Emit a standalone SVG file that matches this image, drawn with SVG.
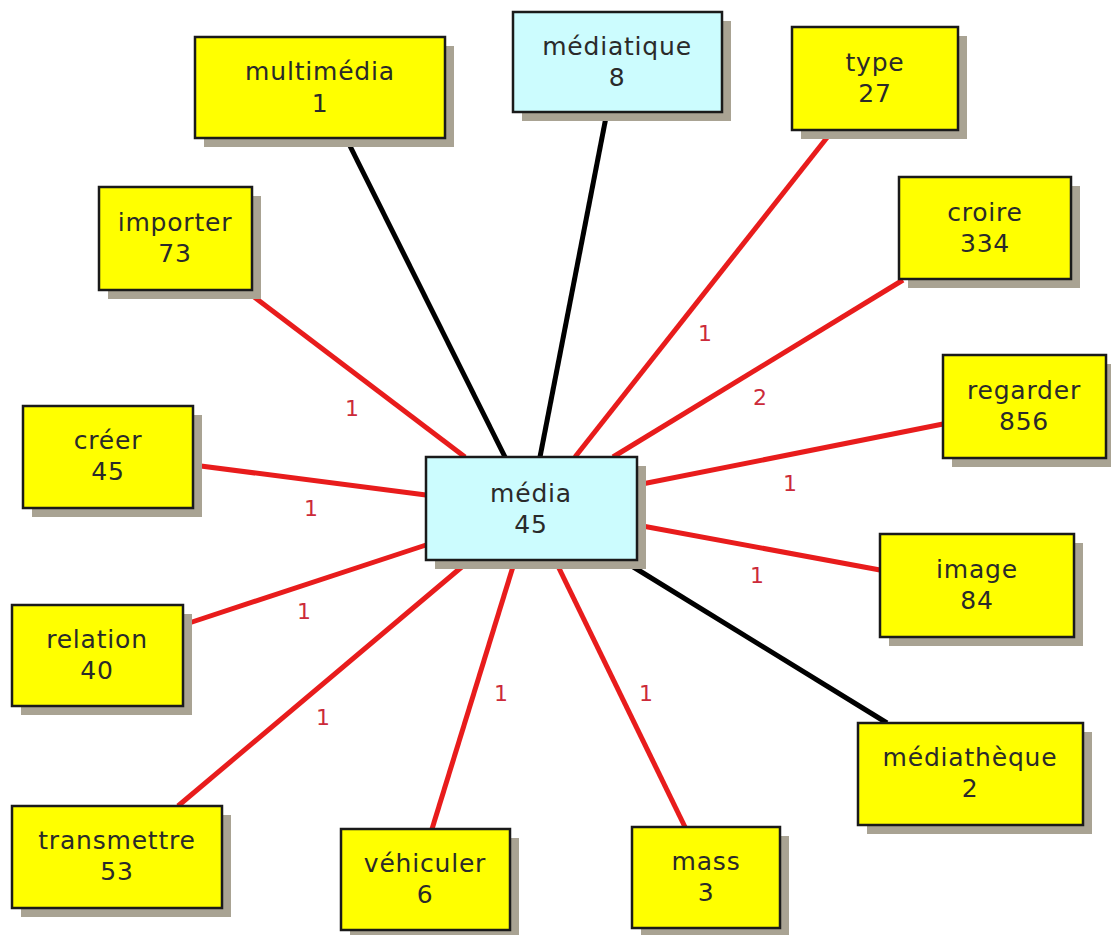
<svg xmlns="http://www.w3.org/2000/svg" width="1111" height="935" viewBox="0 0 1111 935">
<style>
.sh{fill:#a9a393}
.y{fill:#ffff00;stroke:#1a1a1a;stroke-width:2.5}
.c{fill:#ccfcfe;stroke:#1a1a1a;stroke-width:2.5}
.t{font-family:"DejaVu Sans",sans-serif;font-size:25px;fill:#2a2a2a;text-anchor:middle;letter-spacing:0.8px}
.r{stroke:#e81c1c;stroke-width:5;fill:none}
.k{stroke:#000;stroke-width:5;fill:none}
.l{font-family:"DejaVu Sans",sans-serif;font-size:22px;fill:#cc2a3a;text-anchor:middle}
</style>
<rect width="1111" height="935" fill="#ffffff"/>
<g id="connectors">
<line class="k" x1="347" y1="140" x2="505" y2="457"/>
<line class="k" x1="607" y1="112" x2="540" y2="457"/>
<line class="r" x1="833" y1="130" x2="575" y2="457"/>
<line class="r" x1="903" y1="280" x2="613" y2="457"/>
<line class="r" x1="943" y1="424" x2="637" y2="485"/>
<line class="r" x1="880" y1="570" x2="637" y2="525"/>
<line class="k" x1="887" y1="723" x2="622" y2="560"/>
<line class="r" x1="685" y1="827" x2="555" y2="560"/>
<line class="r" x1="432" y1="829" x2="515" y2="560"/>
<line class="r" x1="178" y1="806" x2="470" y2="560"/>
<line class="r" x1="183" y1="625" x2="426" y2="545"/>
<line class="r" x1="193" y1="465" x2="426" y2="495"/>
<line class="r" x1="245" y1="290" x2="465" y2="457"/>
<text class="l" x="352" y="416">1</text>
<text class="l" x="311" y="516">1</text>
<text class="l" x="304" y="619">1</text>
<text class="l" x="323" y="725">1</text>
<text class="l" x="501" y="701">1</text>
<text class="l" x="646" y="701">1</text>
<text class="l" x="757" y="583">1</text>
<text class="l" x="790" y="491">1</text>
<text class="l" x="760" y="405">2</text>
<text class="l" x="705" y="341">1</text>
</g>
<g id="media">
<rect class="sh" x="435" y="466" width="211" height="103"/>
<rect class="c" x="426" y="457" width="211" height="103"/>
<text class="t" x="531" y="502">média</text>
<text class="t" x="531" y="533">45</text>
</g>
<g id="multimedia">
<rect class="sh" x="204" y="46" width="250" height="101"/>
<rect class="y" x="195" y="37" width="250" height="101"/>
<text class="t" x="320" y="80">multimédia</text>
<text class="t" x="320" y="112">1</text>
</g>
<g id="mediatique">
<rect class="sh" x="522" y="21" width="209" height="100"/>
<rect class="c" x="513" y="12" width="209" height="100"/>
<text class="t" x="617" y="55">médiatique</text>
<text class="t" x="617" y="86">8</text>
</g>
<g id="type">
<rect class="sh" x="801" y="36" width="166" height="103"/>
<rect class="y" x="792" y="27" width="166" height="103"/>
<text class="t" x="875" y="71">type</text>
<text class="t" x="875" y="102">27</text>
</g>
<g id="croire">
<rect class="sh" x="908" y="186" width="172" height="102"/>
<rect class="y" x="899" y="177" width="172" height="102"/>
<text class="t" x="985" y="221">croire</text>
<text class="t" x="985" y="252">334</text>
</g>
<g id="regarder">
<rect class="sh" x="952" y="364" width="163" height="103"/>
<rect class="y" x="943" y="355" width="163" height="103"/>
<text class="t" x="1024" y="399">regarder</text>
<text class="t" x="1024" y="430">856</text>
</g>
<g id="image">
<rect class="sh" x="889" y="543" width="194" height="103"/>
<rect class="y" x="880" y="534" width="194" height="103"/>
<text class="t" x="977" y="578">image</text>
<text class="t" x="977" y="609">84</text>
</g>
<g id="mediatheque">
<rect class="sh" x="867" y="732" width="225" height="102"/>
<rect class="y" x="858" y="723" width="225" height="102"/>
<text class="t" x="970" y="766">médiathèque</text>
<text class="t" x="970" y="797">2</text>
</g>
<g id="mass">
<rect class="sh" x="641" y="836" width="148" height="101"/>
<rect class="y" x="632" y="827" width="148" height="101"/>
<text class="t" x="706" y="870">mass</text>
<text class="t" x="706" y="901">3</text>
</g>
<g id="vehiculer">
<rect class="sh" x="350" y="838" width="169" height="101"/>
<rect class="y" x="341" y="829" width="169" height="101"/>
<text class="t" x="425" y="872">véhiculer</text>
<text class="t" x="425" y="903">6</text>
</g>
<g id="transmettre">
<rect class="sh" x="21" y="815" width="210" height="102"/>
<rect class="y" x="12" y="806" width="210" height="102"/>
<text class="t" x="117" y="849">transmettre</text>
<text class="t" x="117" y="880">53</text>
</g>
<g id="relation">
<rect class="sh" x="21" y="614" width="171" height="101"/>
<rect class="y" x="12" y="605" width="171" height="101"/>
<text class="t" x="97" y="648">relation</text>
<text class="t" x="97" y="679">40</text>
</g>
<g id="creer">
<rect class="sh" x="32" y="415" width="170" height="102"/>
<rect class="y" x="23" y="406" width="170" height="102"/>
<text class="t" x="108" y="449">créer</text>
<text class="t" x="108" y="480">45</text>
</g>
<g id="importer">
<rect class="sh" x="108" y="196" width="153" height="103"/>
<rect class="y" x="99" y="187" width="153" height="103"/>
<text class="t" x="175" y="231">importer</text>
<text class="t" x="175" y="262">73</text>
</g>
</svg>
